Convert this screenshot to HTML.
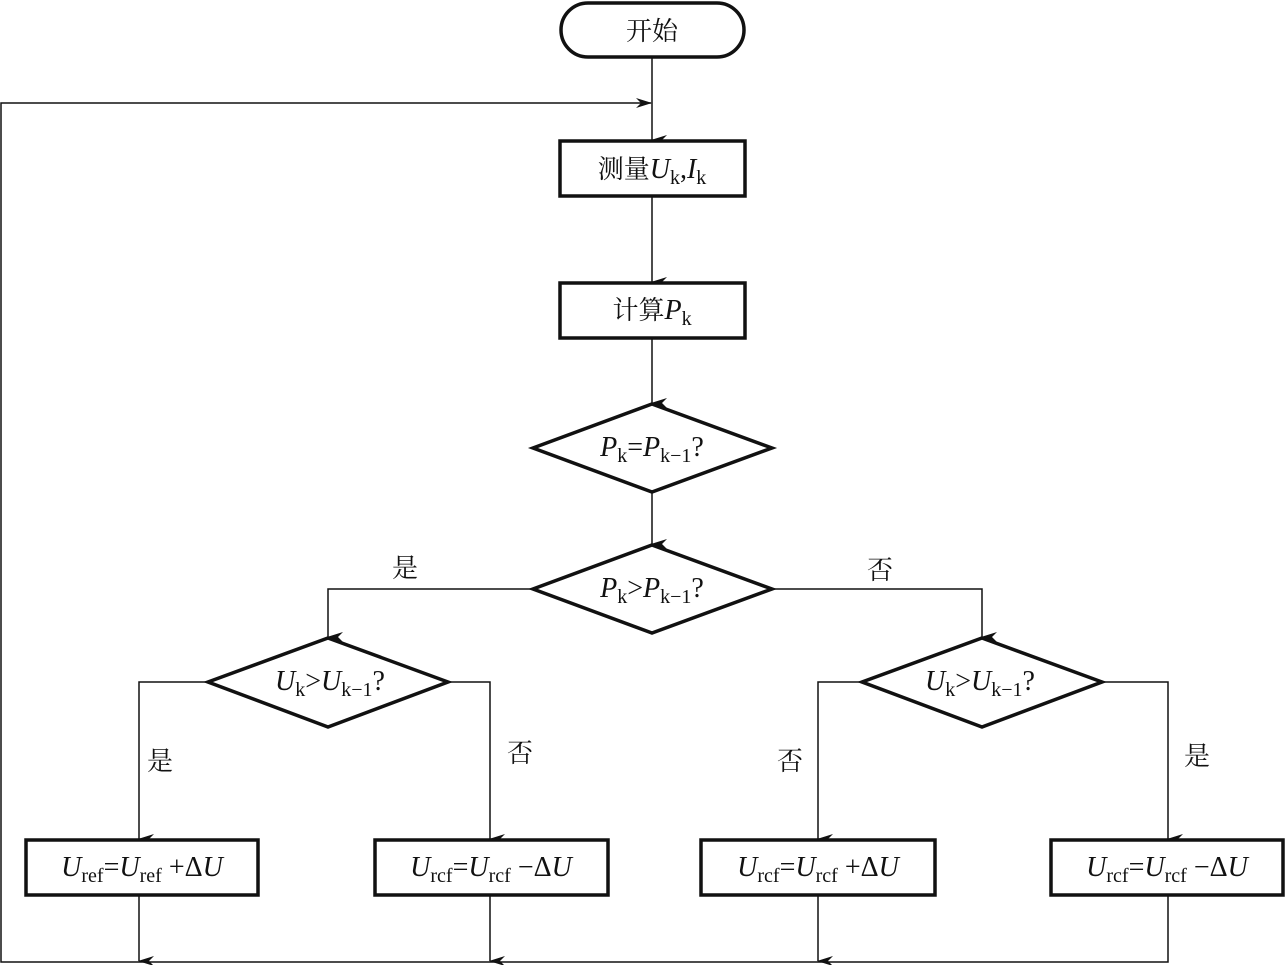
<!DOCTYPE html>
<html><head><meta charset="utf-8"><style>
html,body{margin:0;padding:0;background:#fff;}
svg{display:block}
.t{font-family:"Liberation Serif","Noto Serif CJK SC",serif;fill:#111;}
.c{font-family:"Noto Serif CJK SC","Noto Sans CJK SC",serif;fill:#111;font-size:26px;}
</style></head><body>
<svg width="1286" height="965" viewBox="0 0 1286 965" xmlns="http://www.w3.org/2000/svg">
<defs>
<marker id="a" markerWidth="10" markerHeight="16" refX="5" refY="15" orient="auto-start-reverse" markerUnits="userSpaceOnUse" viewBox="0 0 10 16">
<path d="M0,0 L5,16 L10,0 L5,5 Z" fill="#111"/>
</marker>
<marker id="ar" markerWidth="16" markerHeight="10" refX="15" refY="5" markerUnits="userSpaceOnUse" viewBox="0 0 16 10">
<path d="M0,0 L16,5 L0,10 L5,5 Z" fill="#111"/>
</marker>
</defs>
<g fill="none" stroke="#111" stroke-width="1.5">
<!-- main line -->
<line x1="652" y1="57" x2="652" y2="140" marker-end="url(#a)"/>
<polyline points="1168,895 1168,962 1,962 1,103 651,103" marker-end="url(#ar)"/>
<line x1="652" y1="196" x2="652" y2="282" marker-end="url(#a)"/>
<line x1="652" y1="338" x2="652" y2="403" marker-end="url(#a)"/>
<line x1="652" y1="492" x2="652" y2="544" marker-end="url(#a)"/>
<polyline points="533,589 328,589 328,637" marker-end="url(#a)"/>
<polyline points="772,589 982,589 982,637" marker-end="url(#a)"/>
<polyline points="208,682 139,682 139,839" marker-end="url(#a)"/>
<polyline points="448,682 490,682 490,839" marker-end="url(#a)"/>
<polyline points="862,682 818,682 818,839" marker-end="url(#a)"/>
<polyline points="1102,682 1168,682 1168,839" marker-end="url(#a)"/>
<line x1="139" y1="895" x2="139" y2="961" marker-end="url(#a)"/>
<line x1="490" y1="895" x2="490" y2="961" marker-end="url(#a)"/>
<line x1="818" y1="895" x2="818" y2="961" marker-end="url(#a)"/>
</g>
<g fill="#fff" stroke="#111" stroke-width="3.5">
<rect x="561" y="3" width="183" height="54" rx="27"/>
<rect x="560" y="141" width="185" height="55"/>
<rect x="560" y="283" width="185" height="55"/>
<polygon points="652,404 772,448 652,492 533,448"/>
<polygon points="652,545 772,589 652,633 533,589"/>
<polygon points="328,638 448,682 328,727 208,682"/>
<polygon points="982,638 1102,682 982,727 862,682"/>
<rect x="26" y="840" width="232" height="55"/>
<rect x="375" y="840" width="233" height="55"/>
<rect x="701" y="840" width="234" height="55"/>
<rect x="1051" y="840" width="232" height="55"/>
</g>
<text class="c" x="652" y="40" text-anchor="middle">开始</text>
<text class="t" x="652" y="178" text-anchor="middle" font-size="28"><tspan class="c">测量</tspan><tspan font-style="italic">U</tspan><tspan font-size="20" dy="6">k</tspan><tspan dy="-6">,</tspan><tspan font-style="italic">I</tspan><tspan font-size="20" dy="6">k</tspan></text>
<text class="t" x="652" y="319" text-anchor="middle" font-size="28"><tspan class="c">计算</tspan><tspan font-style="italic">P</tspan><tspan font-size="20" dy="6">k</tspan></text>
<text class="t" x="652" y="456" text-anchor="middle" font-size="28"><tspan font-style="italic">P</tspan><tspan font-size="20" dy="6">k</tspan><tspan dy="-6">=</tspan><tspan font-style="italic">P</tspan><tspan font-size="20" dy="6">k−1</tspan><tspan dy="-6">?</tspan></text>
<text class="t" x="652" y="597" text-anchor="middle" font-size="28"><tspan font-style="italic">P</tspan><tspan font-size="20" dy="6">k</tspan><tspan dy="-6">&gt;</tspan><tspan font-style="italic">P</tspan><tspan font-size="20" dy="6">k−1</tspan><tspan dy="-6">?</tspan></text>
<text class="t" x="330" y="690" text-anchor="middle" font-size="28"><tspan font-style="italic">U</tspan><tspan font-size="20" dy="6">k</tspan><tspan dy="-6">&gt;</tspan><tspan font-style="italic">U</tspan><tspan font-size="20" dy="6">k−1</tspan><tspan dy="-6">?</tspan></text>
<text class="t" x="980" y="690" text-anchor="middle" font-size="28"><tspan font-style="italic">U</tspan><tspan font-size="20" dy="6">k</tspan><tspan dy="-6">&gt;</tspan><tspan font-style="italic">U</tspan><tspan font-size="20" dy="6">k−1</tspan><tspan dy="-6">?</tspan></text>
<text class="t" x="142" y="876" text-anchor="middle" font-size="28"><tspan font-style="italic">U</tspan><tspan font-size="20" dy="6">ref</tspan><tspan dy="-6">=</tspan><tspan font-style="italic">U</tspan><tspan font-size="20" dy="6">ref</tspan><tspan dy="-6"> +Δ</tspan><tspan font-style="italic">U</tspan></text>
<text class="t" x="491" y="876" text-anchor="middle" font-size="28"><tspan font-style="italic">U</tspan><tspan font-size="20" dy="6">rcf</tspan><tspan dy="-6">=</tspan><tspan font-style="italic">U</tspan><tspan font-size="20" dy="6">rcf</tspan><tspan dy="-6"> −Δ</tspan><tspan font-style="italic">U</tspan></text>
<text class="t" x="818" y="876" text-anchor="middle" font-size="28"><tspan font-style="italic">U</tspan><tspan font-size="20" dy="6">rcf</tspan><tspan dy="-6">=</tspan><tspan font-style="italic">U</tspan><tspan font-size="20" dy="6">rcf</tspan><tspan dy="-6"> +Δ</tspan><tspan font-style="italic">U</tspan></text>
<text class="t" x="1167" y="876" text-anchor="middle" font-size="28"><tspan font-style="italic">U</tspan><tspan font-size="20" dy="6">rcf</tspan><tspan dy="-6">=</tspan><tspan font-style="italic">U</tspan><tspan font-size="20" dy="6">rcf</tspan><tspan dy="-6"> −Δ</tspan><tspan font-style="italic">U</tspan></text>
<text class="c" x="405" y="577" text-anchor="middle">是</text>
<text class="c" x="880" y="579" text-anchor="middle">否</text>
<text class="c" x="160" y="770" text-anchor="middle">是</text>
<text class="c" x="520" y="762" text-anchor="middle">否</text>
<text class="c" x="790" y="770" text-anchor="middle">否</text>
<text class="c" x="1197" y="765" text-anchor="middle">是</text>
</svg>
</body></html>
